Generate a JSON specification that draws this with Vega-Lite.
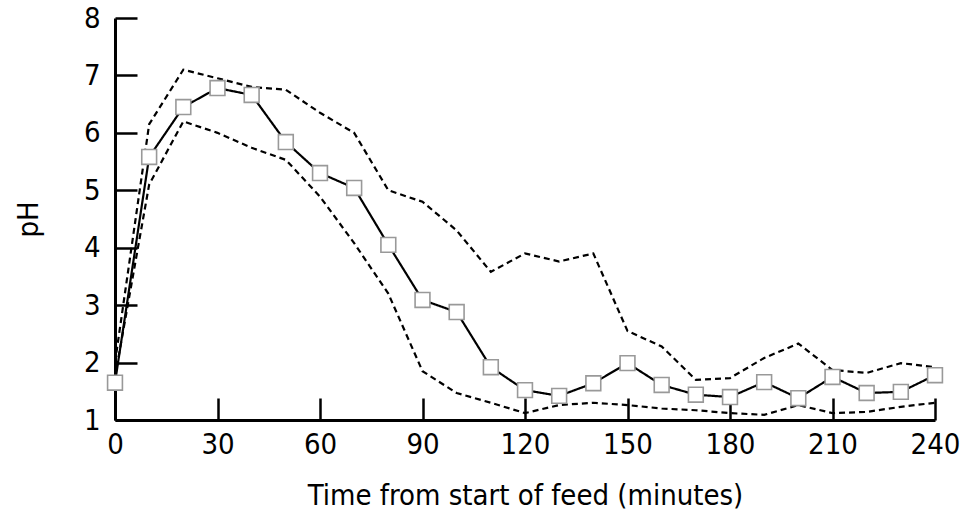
{
  "$schema": "https://vega.github.io/schema/vega-lite/v6.json",
  "width": 820,
  "height": 402,
  "autosize": {"type": "none"},
  "padding": {"left": 115, "top": 18, "right": 32, "bottom": 107},
  "background": "white",
  "config": {
    "view": {"stroke": null},
    "axis": {
      "grid": false,
      "domainColor": "black",
      "domainWidth": 3,
      "tickColor": "black",
      "tickWidth": 2.5,
      "tickSize": -22,
      "labelFlush": false,
      "labelOverlap": false,
      "labelFont": "DejaVu Sans Condensed, sans-serif",
      "labelFontSize": 29,
      "labelColor": "black",
      "titleFont": "DejaVu Sans Condensed, sans-serif",
      "titleFontSize": 29,
      "titleFontWeight": "normal",
      "titleColor": "black"
    }
  },
  "data": {
    "values": [
      {"t": 0, "series": "mean", "pH": 1.65},
      {"t": 10, "series": "mean", "pH": 5.58},
      {"t": 20, "series": "mean", "pH": 6.45},
      {"t": 30, "series": "mean", "pH": 6.78},
      {"t": 40, "series": "mean", "pH": 6.66},
      {"t": 50, "series": "mean", "pH": 5.84},
      {"t": 60, "series": "mean", "pH": 5.3},
      {"t": 70, "series": "mean", "pH": 5.04},
      {"t": 80, "series": "mean", "pH": 4.05},
      {"t": 90, "series": "mean", "pH": 3.09},
      {"t": 100, "series": "mean", "pH": 2.88},
      {"t": 110, "series": "mean", "pH": 1.92},
      {"t": 120, "series": "mean", "pH": 1.52},
      {"t": 130, "series": "mean", "pH": 1.42},
      {"t": 140, "series": "mean", "pH": 1.64},
      {"t": 150, "series": "mean", "pH": 1.99},
      {"t": 160, "series": "mean", "pH": 1.61},
      {"t": 170, "series": "mean", "pH": 1.44},
      {"t": 180, "series": "mean", "pH": 1.4},
      {"t": 190, "series": "mean", "pH": 1.66},
      {"t": 200, "series": "mean", "pH": 1.38},
      {"t": 210, "series": "mean", "pH": 1.75},
      {"t": 220, "series": "mean", "pH": 1.47},
      {"t": 230, "series": "mean", "pH": 1.49},
      {"t": 240, "series": "mean", "pH": 1.78},
      {"t": 0, "series": "upper", "pH": 2.0},
      {"t": 10, "series": "upper", "pH": 6.15},
      {"t": 20, "series": "upper", "pH": 7.1},
      {"t": 30, "series": "upper", "pH": 6.95},
      {"t": 40, "series": "upper", "pH": 6.8},
      {"t": 50, "series": "upper", "pH": 6.75},
      {"t": 60, "series": "upper", "pH": 6.35},
      {"t": 70, "series": "upper", "pH": 6.0},
      {"t": 80, "series": "upper", "pH": 5.0},
      {"t": 90, "series": "upper", "pH": 4.8},
      {"t": 100, "series": "upper", "pH": 4.3},
      {"t": 110, "series": "upper", "pH": 3.58},
      {"t": 120, "series": "upper", "pH": 3.9},
      {"t": 130, "series": "upper", "pH": 3.76},
      {"t": 140, "series": "upper", "pH": 3.9},
      {"t": 150, "series": "upper", "pH": 2.55},
      {"t": 160, "series": "upper", "pH": 2.28},
      {"t": 170, "series": "upper", "pH": 1.7},
      {"t": 180, "series": "upper", "pH": 1.73},
      {"t": 190, "series": "upper", "pH": 2.08},
      {"t": 200, "series": "upper", "pH": 2.33},
      {"t": 210, "series": "upper", "pH": 1.87},
      {"t": 220, "series": "upper", "pH": 1.82},
      {"t": 230, "series": "upper", "pH": 1.99},
      {"t": 240, "series": "upper", "pH": 1.92},
      {"t": 0, "series": "lower", "pH": 1.75},
      {"t": 10, "series": "lower", "pH": 5.1},
      {"t": 20, "series": "lower", "pH": 6.2},
      {"t": 30, "series": "lower", "pH": 6.0},
      {"t": 40, "series": "lower", "pH": 5.74},
      {"t": 50, "series": "lower", "pH": 5.53},
      {"t": 60, "series": "lower", "pH": 4.89},
      {"t": 70, "series": "lower", "pH": 4.08},
      {"t": 80, "series": "lower", "pH": 3.2},
      {"t": 90, "series": "lower", "pH": 1.85},
      {"t": 100, "series": "lower", "pH": 1.47},
      {"t": 110, "series": "lower", "pH": 1.3},
      {"t": 120, "series": "lower", "pH": 1.12},
      {"t": 130, "series": "lower", "pH": 1.26},
      {"t": 140, "series": "lower", "pH": 1.3},
      {"t": 150, "series": "lower", "pH": 1.26},
      {"t": 160, "series": "lower", "pH": 1.2},
      {"t": 170, "series": "lower", "pH": 1.17},
      {"t": 180, "series": "lower", "pH": 1.12},
      {"t": 190, "series": "lower", "pH": 1.09},
      {"t": 200, "series": "lower", "pH": 1.26},
      {"t": 210, "series": "lower", "pH": 1.12},
      {"t": 220, "series": "lower", "pH": 1.14},
      {"t": 230, "series": "lower", "pH": 1.23},
      {"t": 240, "series": "lower", "pH": 1.3}
    ]
  },
  "encoding": {
    "x": {
      "field": "t",
      "type": "quantitative",
      "scale": {"domain": [0, 240], "nice": false, "zero": false},
      "axis": {
        "values": [0, 30, 60, 90, 120, 150, 180, 210, 240],
        "title": "Time from start of feed (minutes)",
        "labelPadding": 32,
        "titlePadding": 22
      }
    },
    "y": {
      "field": "pH",
      "type": "quantitative",
      "scale": {"domain": [1, 8], "nice": false, "zero": false},
      "axis": {
        "values": [1, 2, 3, 4, 5, 6, 7, 8],
        "title": "pH",
        "labelPadding": 37,
        "titlePadding": 40
      }
    }
  },
  "layer": [
    {
      "mark": {"type": "line", "strokeWidth": 2.2, "color": "black"},
      "encoding": {
        "detail": {"field": "series"},
        "strokeDash": {
          "field": "series",
          "type": "nominal",
          "scale": {"domain": ["mean", "upper", "lower"], "range": [[1, 0], [6, 4], [6, 4]]},
          "legend": null
        }
      }
    },
    {
      "transform": [{"filter": "datum.series === 'mean'"}],
      "mark": {"type": "square", "size": 220, "filled": true, "fill": "white", "stroke": "#999999", "strokeWidth": 1.6, "opacity": 1}
    }
  ]
}
